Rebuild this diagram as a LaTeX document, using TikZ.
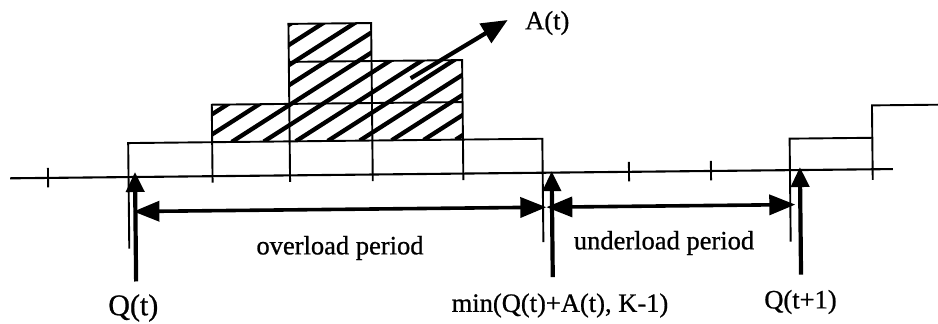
\documentclass[tikz,border=0pt]{standalone}
\usepackage{fontspec}
\setmainfont{Liberation Serif}[FakeBold=0.8]
\usetikzlibrary{arrows.meta}
\begin{document}
\begin{tikzpicture}[x=1pt,y=-1pt,
  thinline/.style={line width=1.9pt},
  axisline/.style={line width=2.1pt},
  marker/.style={line width=4.2pt,-{Triangle[length=20pt,width=18pt]}},
  spanarrow/.style={line width=3.6pt,{Triangle[length=26pt,width=20pt]}-{Triangle[length=26pt,width=20pt]}},
  bigarrow/.style={line width=4.2pt,-{Triangle[length=26pt,width=22pt]}},
  hatchline/.style={line width=4.3pt},
  lbl/.style={font=\fontsize{26.5}{30}\selectfont, inner sep=0pt},
  biglbl/.style={font=\fontsize{30}{34}\selectfont, inner sep=0pt}]
\useasboundingbox (0,0) rectangle (938,324);
\begin{scope}[rotate around={0.6:(470,173.5)}]
  % coordinates
  \coordinate (axL) at (10,173.5);
  \coordinate (axR) at (893,173.5);
  \coordinate (l1L) at (128.5,139.5);
  \coordinate (l1R) at (542.7,139.5);
  \coordinate (l1Lb) at (128.5,245);
  \coordinate (l1Rb) at (542.7,243);
  \coordinate (q1L) at (790,142);
  \coordinate (q1Lb) at (790,245);
  \coordinate (q1R) at (872.7,142);
  \coordinate (stT) at (872.7,109.6);
  \coordinate (stB) at (872.7,184);
  \coordinate (stR) at (945,109.6);
  % hatching
  \begin{scope}
    \clip (212.5,139.5) -- (212.5,102) -- (290,102) -- (290,22) -- (372.7,22)
      -- (372.7,60) -- (463.3,60) -- (463.3,139.5) -- cycle;
    \foreach \i in {-5,...,8}
      \draw[hatchline] (232+32*\i,139.5) -- ++(230,-143.75);
  \end{scope}
  % axis and ticks
  \draw[axisline] (axL) -- (axR);
  \foreach \x in {48,629,711}
    \draw[thinline] (\x,163.5) -- (\x,183);
  % level 1
  \draw[thinline] (l1Lb) -- (l1L) -- (l1R) -- (l1Rb);
  % boxes
  \draw[thinline] (212.5,180) -- (212.5,102) -- (463.3,102);
  \draw[thinline] (290,180) -- (290,22) -- (372.7,22) -- (372.7,180);
  \draw[thinline] (290,60) -- (463.3,60) -- (463.3,180);
  % right staircase
  \draw[thinline] (q1Lb) -- (q1L) -- (q1R);
  \draw[thinline] (stB) -- (stT) -- (stR);
  % markers
  \coordinate (mA0) at (135,278);   \coordinate (mA1) at (135,168.5);
  \coordinate (mB0) at (551.7,278); \coordinate (mB1) at (551.7,172);
  \coordinate (mC0) at (800,278);   \coordinate (mC1) at (800,170.5);
  \draw[marker] (mA0) -- (mA1);
  \draw[marker] (mB0) -- (mB1);
  \draw[marker] (mC0) -- (mC1);
  % spans
  \coordinate (sp0) at (133,208);
  \coordinate (sp1) at (546,208);
  \coordinate (sp2) at (795,208);
  \draw[spanarrow] (sp0) -- (sp1);
  \draw[spanarrow] (sp1) -- (sp2);
  % A(t) arrow
  \coordinate (aT) at (411.7,77.7);
  \coordinate (aH) at (509.3,20.4);
  \draw[bigarrow] (aT) -- (aH);
\end{scope}
\node[lbl, anchor=west] (at) at (525,23) {A(t)};
\node[lbl] (ov) at (340,248) {overload period};
\node[lbl] (un) at (664,243) {underload period};
\node[biglbl] (qt) at (133.3,308) {Q(t)};
\node[lbl] (mn) at (560,305.5) {min(Q(t)+A(t), K-1)};
\node[lbl] (qt1) at (800.5,302) {Q(t+1)};
\end{tikzpicture}
\end{document}
